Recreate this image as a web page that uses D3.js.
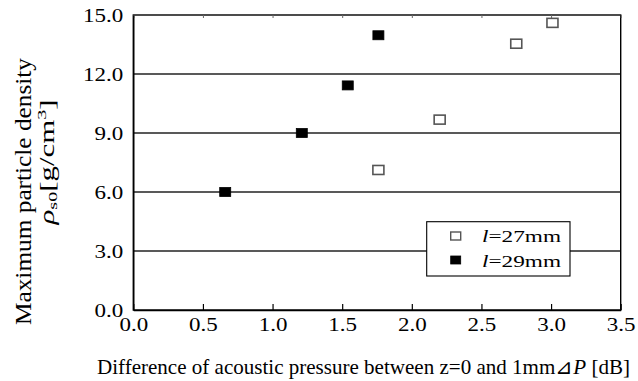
<!DOCTYPE html>
<html><head><meta charset="utf-8">
<script src="https://cdn.jsdelivr.net/npm/d3@7"></script>
<style>
body{margin:0;background:#fff;}
svg{display:block;}
text{font-family:"Liberation Serif","Times New Roman",serif;fill:#000;}
</style></head>
<body><svg id="c" width="638" height="381"></svg>
<script>
// Data
const x27 = [1.76, 2.20, 2.75, 3.01];
const y27 = [7.12, 9.68, 13.54, 14.6];
const x29 = [0.66, 1.21, 1.54, 1.76];
const y29 = [6.0, 9.0, 11.42, 13.97];
const xTicks = [0, 0.5, 1.0, 1.5, 2.0, 2.5, 3.0, 3.5];
const yTicks = [0, 3, 6, 9, 12, 15];
const gridVals = [3, 6, 9, 12];
const legendLabels = ["27mm", "29mm"];

const svg = d3.select("#c");
const L = 133.3, R = 620.7, T = 15, B = 310;
const x = d3.scaleLinear().domain([0, 3.5]).range([L, R]);
const y = d3.scaleLinear().domain([0, 15]).range([B, T]);

// gridlines
svg.append("g").selectAll("line").data(gridVals).join("line")
  .attr("x1", L).attr("x2", R).attr("y1", d => y(d)).attr("y2", d => y(d))
  .attr("stroke", "#222").attr("stroke-width", 1.3);

// frame
svg.append("rect").attr("x", L).attr("y", T).attr("width", R - L).attr("height", B - T)
  .attr("fill", "none").attr("stroke", "#000").attr("stroke-width", 1.4);

const emW = s => s.split("").reduce((a, c) => a + (c === "." ? 0.25 : 0.5), 0);

// bottom axis
const gx = svg.append("g").attr("transform", `translate(0,${B})`)
  .call(d3.axisBottom(x).tickValues(xTicks).tickFormat(d3.format(".1f")).tickSize(-6).tickSizeOuter(0));
gx.attr("font-family", null);
gx.select(".domain").attr("stroke", "#000").attr("stroke-width", 1.4);
gx.selectAll(".tick line").attr("stroke", "#000").attr("stroke-width", 1.2);
gx.selectAll(".tick text").attr("y", 20.6).attr("dy", null)
  .style("font-size", "18.6px")
  .attr("textLength", function(){ return emW(this.textContent) * 23; })
  .attr("lengthAdjust", "spacingAndGlyphs");

// top ticks
const gt = svg.append("g").attr("transform", `translate(0,${T})`)
  .call(d3.axisTop(x).tickValues(xTicks).tickFormat("").tickSize(-3).tickSizeOuter(0));
gt.select(".domain").remove();
gt.selectAll(".tick line").attr("stroke", "#666").attr("stroke-width", 1);

// left axis
const gy = svg.append("g").attr("transform", `translate(${L},0)`)
  .call(d3.axisLeft(y).tickValues(yTicks).tickFormat(d3.format(".1f")).tickSize(0).tickPadding(10));
gy.attr("font-family", null);
gy.select(".domain").attr("stroke", "#000").attr("stroke-width", 1.4);
gy.selectAll(".tick text").attr("dy", null).attr("y", 6.6)
  .style("font-size", "18.6px")
  .attr("textLength", function(){ return emW(this.textContent) * 23; })
  .attr("lengthAdjust", "spacingAndGlyphs");

// points
const w = 11, h = 9;
svg.append("g").selectAll("rect").data(x27.map((d, i) => [d, y27[i]])).join("rect")
  .attr("x", d => x(d[0]) - w / 2).attr("y", d => y(d[1]) - h / 2)
  .attr("width", w).attr("height", h)
  .attr("fill", "#fff").attr("stroke", "#555").attr("stroke-width", 1.6);
svg.append("g").selectAll("rect").data(x29.map((d, i) => [d, y29[i]])).join("rect")
  .attr("x", d => x(d[0]) - w / 2).attr("y", d => y(d[1]) - h / 2)
  .attr("width", w).attr("height", h)
  .attr("fill", "#000").attr("stroke", "#000").attr("stroke-width", 0.8);

// legend
const lg = svg.append("g");
lg.append("rect").attr("x", 426.7).attr("y", 221.7).attr("width", 143.3).attr("height", 54.3)
  .attr("fill", "#fff").attr("stroke", "#000").attr("stroke-width", 1.1);
const rows = [{lab: legendLabels[0], fill: "#fff", stroke: "#555", yy: 236, base: 241.7},
              {lab: legendLabels[1], fill: "#000", stroke: "#000", yy: 260, base: 266.7}];
rows.forEach(r => {
  lg.append("rect").attr("x", 455.7 - 5).attr("y", r.yy - 4).attr("width", 10).attr("height", 8)
    .attr("fill", r.fill).attr("stroke", r.stroke).attr("stroke-width", r.fill === "#fff" ? 1.4 : 0.8);
  const t = lg.append("text").attr("x", 482).attr("y", r.base).style("font-size", "17.5px")
    .attr("textLength", 79).attr("lengthAdjust", "spacingAndGlyphs");
  t.append("tspan").style("font-style", "italic").text("l");
  t.append("tspan").text("=" + r.lab);
});

// x title
const xt = svg.append("text").attr("x", 97).attr("y", 374).style("font-size", "21px")
  .attr("textLength", 533).attr("lengthAdjust", "spacingAndGlyphs");
xt.append("tspan").text("Difference of acoustic pressure between z=0 and 1mm");
xt.append("tspan").text("\u22BF");
xt.append("tspan").style("font-style", "italic").text("P");
xt.append("tspan").text(" [dB]");

// y title
svg.append("text").attr("transform", "translate(31,191.5) rotate(-90)")
  .attr("text-anchor", "middle").style("font-size", "24px")
  .attr("textLength", 267).attr("lengthAdjust", "spacingAndGlyphs")
  .text("Maximum particle density");
const yt2 = svg.append("text").attr("transform", "translate(54,162) rotate(-90)")
  .attr("text-anchor", "middle").style("font-size", "20px")
  .attr("textLength", 125).attr("lengthAdjust", "spacingAndGlyphs");
yt2.append("tspan").style("font-style", "italic").text("\u03C1");
yt2.append("tspan").style("font-size", "13px").attr("dy", 3).text("s0");
yt2.append("tspan").attr("dy", -3).text("[g/cm");
yt2.append("tspan").style("font-size", "13px").attr("dy", -8).text("3");
yt2.append("tspan").attr("dy", 8).text("]");
</script></body></html>
